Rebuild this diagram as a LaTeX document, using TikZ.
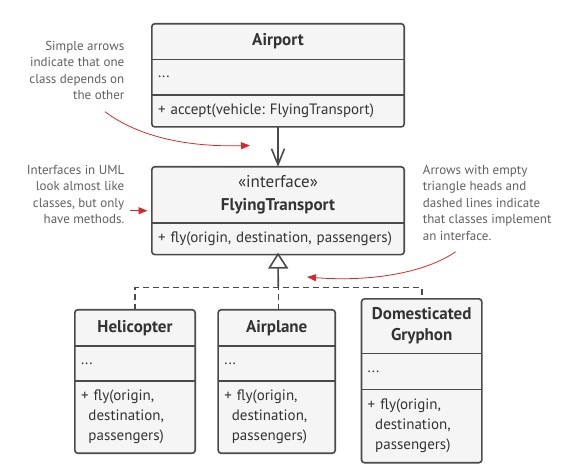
\documentclass[tikz,border=0pt]{standalone}
\usepackage{fontspec}
\setmainfont{PT Sans}
\usetikzlibrary{positioning,arrows.meta,backgrounds}
\frenchspacing

\definecolor{boxline}{HTML}{4A4A4A}
\definecolor{boxfill}{HTML}{F5F5F5}
\definecolor{boxtext}{HTML}{333333}
\definecolor{notetext}{HTML}{606060}
\definecolor{notered}{HTML}{D32A2F}

\tikzset{
  cls/.style={inner xsep=6pt, inner ysep=0pt, text=boxtext,
    font=\fontsize{15}{20}\selectfont},
  clstitle/.style={cls, align=center, font=\fontsize{17}{21}\selectfont\bfseries},
  member/.style={cls, align=left},
  frame/.style={draw=boxline, line width=1.6pt, fill=boxfill, rounded corners=3pt},
  divider/.style={draw=boxline, line width=1.6pt},
  note/.style={inner sep=0pt, text=notetext, font=\fontsize{13}{16.5}\selectfont},
  notearrow/.style={draw=notered, line width=0.8pt, -{Triangle[length=9pt,width=7pt]}},
  dep/.style={draw=boxline, line width=1.6pt, -{Straight Barb[length=16pt,width=13pt]}},
  realize/.style={draw=boxline, line width=1.6pt, dash pattern=on 6pt off 4pt},
}

\begin{document}
\begin{tikzpicture}[x=1pt,y=-1pt]
  \useasboundingbox (0,0) rectangle (582,473);

  % classes
  \node[clstitle, minimum width=252, minimum height=35.3] (airport) at (278,41.6) {Airport};
  \node[member, text width=240, minimum height=35, below=0pt of airport] (airport-attr) {...};
  \node[member, text width=240, minimum height=31.7, below=0pt of airport-attr] (airport-ops) {+ accept(vehicle: FlyingTransport)};

  \node[clstitle, minimum width=252, minimum height=56] (iface) at (278,195)
    {\mdseries«interface»\\[2pt]FlyingTransport};
  \node[member, text width=240, minimum height=31, below=0pt of iface] (iface-ops) {+ fly(origin, destination, passengers)};

  \node[clstitle, minimum width=120, minimum height=35.7] (heli) at (135,327.8) {Helicopter};
  \node[member, text width=108, minimum height=35, below=0pt of heli] (heli-attr) {...};
  \node[member, text width=108, minimum height=71.6, below=0pt of heli-attr] (heli-ops)
    {+ fly(origin,\\\hspace*{0.5em}destination,\\\hspace*{0.5em}passengers)};

  \node[clstitle, minimum width=116.7, minimum height=35.7] (plane) at (276.7,327.8) {Airplane};
  \node[member, text width=104.7, minimum height=35, below=0pt of plane] (plane-attr) {...};
  \node[member, text width=104.7, minimum height=71.6, below=0pt of plane-attr] (plane-ops)
    {+ fly(origin,\\\hspace*{0.5em}destination,\\\hspace*{0.5em}passengers)};

  \node[clstitle, minimum width=120, minimum height=54.3] (gryphon) at (421.7,326.2) {Domesticated\\Gryphon};
  \node[member, text width=108, minimum height=35.7, below=0pt of gryphon] (gryphon-attr) {...};
  \node[member, text width=108, minimum height=72.7, below=0pt of gryphon-attr] (gryphon-ops)
    {+ fly(origin,\\\hspace*{0.5em}destination,\\\hspace*{0.5em}passengers)};

  \begin{scope}[on background layer]
    \foreach \c in {airport,iface,heli,plane,gryphon}
      \draw[frame] (\c.north west) rectangle (\c-ops.south east);
  \end{scope}
  \foreach \c in {airport,heli,plane,gryphon} {
    \draw[divider] (\c-attr.north west) -- (\c-attr.north east);
    \draw[divider] (\c-ops.north west) -- (\c-ops.north east);
  }
  \draw[divider] (iface-ops.north west) -- (iface-ops.north east);

  % connectors
  \draw[dep] (airport-ops.south) -- (iface.north);
  \coordinate (bus) at (278.3,287.7);
  \draw[realize] (heli.north) |- (bus) -| (gryphon.north);
  \draw[realize] (plane.north -| bus) -- (bus);
  \draw[draw=boxline, line width=1.6pt, -{Triangle[open,length=16pt,width=20pt,fill=white]}]
    (bus) -- ([yshift=2pt]iface-ops.south);

  % notes
  \node[note, align=right, anchor=north east] (dep-note) at (124.5,41)
    {Simple arrows\\indicate that one\\class depends on\\the other};
  \node[note, align=right, anchor=north east] (iface-note) at (124.5,165)
    {Interfaces in UML\\look almost like\\classes, but only\\have methods.};
  \node[note, align=left, anchor=north west] (impl-note) at (422.7,165)
    {Arrows with empty\\triangle heads and\\dashed lines indicate\\that classes implement\\an interface.};

  \coordinate (dep-from) at (105,111.7);
  \coordinate (dep-to) at (250,145.5);
  \draw[notearrow] (dep-from) .. controls (140,138) and (190,147) .. (dep-to);
  \coordinate (iface-from) at (130,210.7);
  \coordinate (iface-to) at (147.5,210.7);
  \draw[notearrow] (iface-from) -- (iface-to);
  \coordinate (impl-from) at (455.7,251.7);
  \coordinate (impl-to) at (307,277);
  \draw[notearrow] (impl-from) .. controls (425,273) and (370,282) .. (impl-to);
\end{tikzpicture}
\end{document}
